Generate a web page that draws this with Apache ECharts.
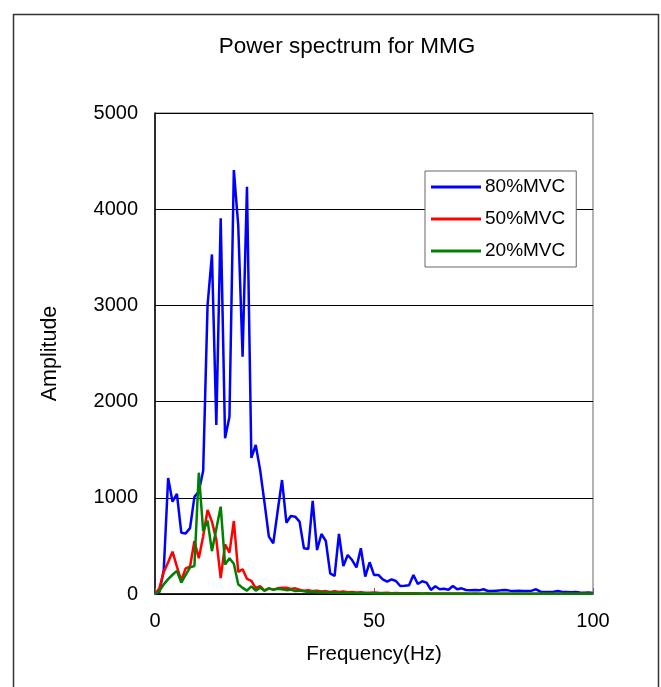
<!DOCTYPE html>
<html>
<head>
<meta charset="utf-8">
<script src="https://cdn.jsdelivr.net/npm/echarts@6/dist/echarts.min.js"></script>
<style>
html,body{margin:0;padding:0;background:#fff;}
#c{width:661px;height:687px;}
</style>
</head>
<body>
<div id="c"></div>
<script>
var freq = [0,1,2,3,4,5,6,7,8,9,10,11,12,13,14,15,16,17,18,19,20,21,22,23,24,25,26,27,28,29,30,31,32,33,34,35,36,37,38,39,40,41,42,43,44,45,46,47,48,49,50,51,52,53,54,55,56,57,58,59,60,61,62,63,64,65,66,67,68,69,70,71,72,73,74,75,76,77,78,79,80,81,82,83,84,85,86,87,88,89,90,91,92,93,94,95,96,97,98,99,100];
var mvc80 = [0,20,250,1205,960,1040,637,630,685,1010,
  1065,1280,3000,3530,1757,3905,1620,1843,4407,3836,
  2467,4234,1414,1549,1290,950,596,527,860,1185,
  741,811,804,752,475,468,967,457,624,551,
  215,187,624,291,405,353,277,475,180,330,
  198,198,152,128,152,135,83,86,90,198,
  104,132,118,42,80,50,55,45,83,49,
  59,42,40,42,38,49,31,30,35,38,
  42,35,30,35,30,31,35,49,24,22,
  20,24,31,22,20,18,22,15,12,15,10];
var mvc50 = [0,60,230,330,440,284,140,267,284,551,
  371,600,873,752,565,165,515,430,759,230,
  257,158,137,60,83,35,59,45,59,66,
  66,52,59,45,35,40,30,35,25,30,
  22,28,20,25,18,20,15,18,14,12,
  15,12,10,12,9,10,8,9,8,7,
  8,6,7,5,6,5,5,4,5,4,
  4,4,3,4,3,3,3,3,3,3,
  3,2,3,2,2,2,2,2,2,2,
  2,2,2,2,2,2,2,2,2,2,2];
var mvc20 = [0,30,100,155,200,240,118,198,277,291,
  1261,655,762,445,678,908,305,371,315,102,
  64,35,80,35,66,35,59,45,55,50,
  40,45,30,35,28,20,25,18,20,15,
  18,12,15,10,12,10,8,9,7,8,
  6,7,5,6,5,5,4,5,4,4,
  4,3,4,3,3,3,3,3,3,3,
  2,3,2,2,2,2,2,2,2,2,
  2,2,2,2,2,2,2,2,2,2,
  2,2,2,2,2,2,2,2,2,2,2];
var seriesNames = ['80%MVC','50%MVC','20%MVC'];
var xTicks = [0,50,100];
var yTicks = [0,1000,2000,3000,4000,5000];

function pairs(arr){ return arr.map(function(v,i){ return [freq[i], v]; }); }

var FONT = 'Liberation Sans, Arial, sans-serif';
var chart = echarts.init(document.getElementById('c'), null, {renderer:'canvas'});
chart.setOption({
  animation:false,
  backgroundColor:'#fff',
  title:{
    text:'Power spectrum for MMG',
    left:342, top:30, textAlign:'center',
    textStyle:{fontFamily:FONT, fontSize:22.5, fontWeight:'normal', color:'#000'}
  },
  graphic:[{
    type:'rect', left:11, top:12, z:-10,
    shape:{width:645, height:700},
    style:{fill:'none', stroke:'#333', lineWidth:1.5}
  }],
  legend:{
    orient:'vertical',
    left:425, top:171,
    backgroundColor:'#fff',
    borderColor:'#666', borderWidth:1,
    padding:[6,11,6,6],
    itemGap:12,
    itemWidth:50, itemHeight:3,
    icon:'rect',
    textStyle:{fontFamily:FONT, fontSize:19, color:'#000', lineHeight:20, padding:[0,0,0,-1]},
    data:seriesNames
  },
  grid:{
    left:155, top:113, width:438, height:481,
    show:true, borderColor:'#666', borderWidth:1,
    containLabel:false
  },
  xAxis:{
    type:'value', min:0, max:100, interval:50,
    name:'Frequency(Hz)', nameLocation:'middle', nameGap:50,
    nameTextStyle:{fontFamily:FONT, fontSize:20.5, color:'#000'},
    axisLine:{lineStyle:{color:'#000', width:1.5}},
    axisTick:{show:true, inside:true, length:6, lineStyle:{color:'#666'}},
    axisLabel:{fontFamily:FONT, fontSize:20, color:'#000', margin:17,
      formatter:function(v){ return xTicks.indexOf(v)>=0 ? String(v) : ''; }},
    splitLine:{show:false}
  },
  yAxis:{
    type:'value', min:0, max:5000, interval:1000,
    name:'Amplitude', nameLocation:'middle', nameGap:94, nameRotate:90,
    nameTextStyle:{fontFamily:FONT, fontSize:21.5, color:'#000'},
    axisLine:{show:true, lineStyle:{color:'#000', width:1.5}},
    axisTick:{show:true, inside:true, length:6, lineStyle:{color:'#000'}},
    axisLabel:{fontFamily:FONT, fontSize:20, color:'#000', margin:17,
      formatter:function(v){ return yTicks.indexOf(v)>=0 ? String(v) : ''; }},
    splitLine:{show:true, lineStyle:{color:'#000', width:1}}
  },
  series:[
    {name:seriesNames[0], type:'line', data:pairs(mvc80), showSymbol:false, symbol:'none',
      lineStyle:{color:'#0000FF', width:2.5}, itemStyle:{color:'#0000FF'}},
    {name:seriesNames[1], type:'line', data:pairs(mvc50), showSymbol:false, symbol:'none',
      lineStyle:{color:'#FF0000', width:2.5}, itemStyle:{color:'#FF0000'}},
    {name:seriesNames[2], type:'line', data:pairs(mvc20), showSymbol:false, symbol:'none',
      lineStyle:{color:'#008000', width:2.5}, itemStyle:{color:'#008000'}}
  ]
});
</script>
</body>
</html>
